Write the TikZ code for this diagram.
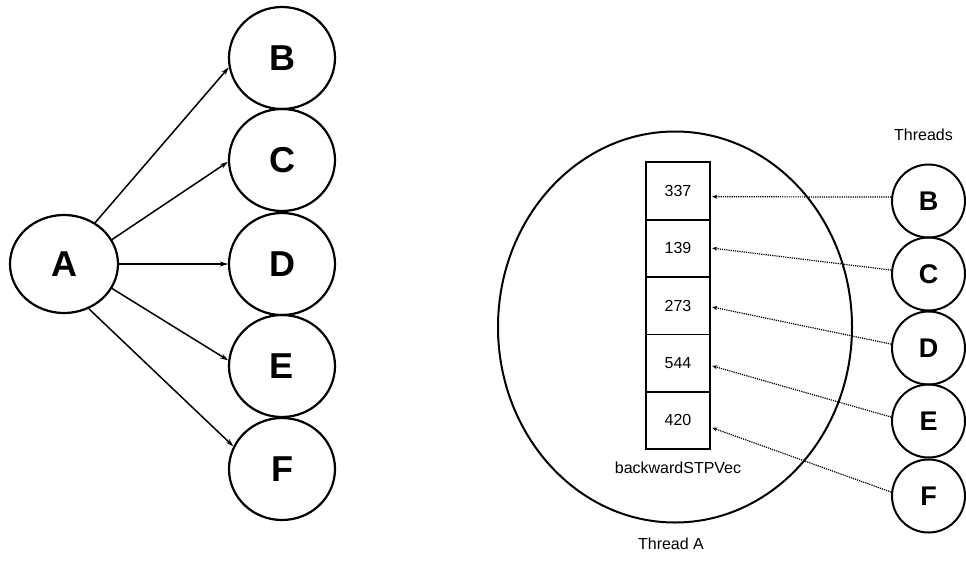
\documentclass[tikz,border=0pt]{standalone}
\usepackage{fontspec}
\setmainfont{Liberation Sans}
\usetikzlibrary{arrows.meta,shapes.geometric}

\begin{document}
\begin{tikzpicture}[x=1pt,y=-1pt,
  bignode/.style={ellipse,draw,line width=2.2pt,inner sep=0pt,
    minimum width=106pt,minimum height=102pt,
    font=\fontsize{36}{36}\selectfont\bfseries},
  thread/.style={circle,draw,line width=2pt,inner sep=0pt,
    minimum size=73pt,font=\fontsize{27}{27}\selectfont\bfseries},
  cell/.style={rectangle,inner sep=0pt,
    minimum width=64pt,minimum height=57.4pt,
    font=\fontsize{16}{16}\selectfont},
  frame/.style={line width=1.8pt},
  lbl/.style={inner sep=0pt,font=\fontsize{16}{16}\selectfont},
  spawn/.style={line width=1.5pt,-{Stealth[length=8pt,width=5pt]}},
  link/.style={line width=1.2pt,densely dotted,-{Stealth[length=5pt,width=4pt]}}
]
\useasboundingbox (0,0) rectangle (966,568);

% --- left: thread A spawning threads B..F ---
\node[bignode,minimum width=108pt,minimum height=98pt] (A) at (64,264) {A};
\node[bignode] (B) at (282,58)  {B};
\node[bignode] (C) at (282,160) {C};
\node[bignode] (D) at (282,264) {D};
\node[bignode] (E) at (282,366) {E};
\node[bignode] (F) at (282,469) {F};

\draw[spawn] (A.53)  -- (B.190);
\draw[spawn] (A.27)  -- (C.182);
\draw[spawn] (A.0)   -- (D.180);
\draw[spawn] (A.-27) -- (E.174);
\draw[spawn] (A.-61) -- (F.155);

% --- right: thread A holding the vector, written by threads B..F ---
\node[ellipse,draw,line width=2pt,minimum width=354pt,minimum height=391pt,
      inner sep=0pt] (TA) at (675,327) {};

\node[cell] (c1) at (678,190.7) {337};
\node[cell] (c2) at (678,248.1) {139};
\node[cell] (c3) at (678,305.5) {273};
\node[cell] (c4) at (678,362.9) {544};
\node[cell] (c5) at (678,420.3) {420};
\draw[frame] (c1.north west) rectangle (c5.south east);
\foreach \u/\l in {c1/c2,c2/c3,c3/c4,c4/c5}
  \draw[frame] (\u.south west) -- (\u.south east);

\node[lbl] (vec) at (678,468) {backwardSTPVec};
\node[lbl] (tha) at (671,544) {Thread A};
\node[lbl] (ths) at (923.5,135) {Threads};

\node[thread] (tB) at (928.5,201) {B};
\node[thread] (tC) at (928.5,274) {C};
\node[thread] (tD) at (928.5,348) {D};
\node[thread] (tE) at (928.5,421) {E};
\node[thread] (tF) at (928.5,496) {F};

\draw[link] (tB.174) -- ([xshift=2pt,yshift=-6pt]c1.east);
\draw[link] (tC.174) -- ([xshift=2pt]c2.east);
\draw[link] (tD.174) -- ([xshift=2pt,yshift=-1.5pt]c3.east);
\draw[link] (tE.174) -- ([xshift=2pt,yshift=-3pt]c4.east);
\draw[link] (tF.174) -- ([xshift=2pt,yshift=-7.5pt]c5.east);
\end{tikzpicture}
\end{document}
